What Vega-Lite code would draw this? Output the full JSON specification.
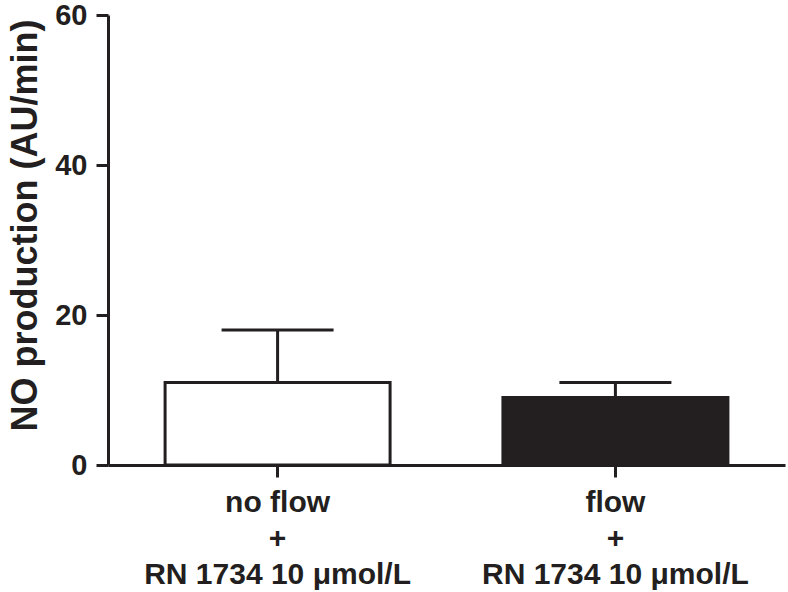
{
  "$schema": "https://vega.github.io/schema/vega-lite/v6.json",
  "autosize": {"type": "none"},
  "width": 677,
  "height": 450,
  "padding": {"left": 108, "top": 15, "right": 3, "bottom": 127},
  "background": "white",
  "config": {
    "view": {"stroke": null},
    "font": "Liberation Sans",
    "axis": {
      "domainColor": "#231f20",
      "domainWidth": 3,
      "tickColor": "#231f20",
      "tickWidth": 3,
      "tickSize": 12,
      "labelColor": "#231f20",
      "labelFont": "Liberation Sans",
      "labelFontWeight": "bold",
      "titleFont": "Liberation Sans",
      "titleFontWeight": "bold",
      "titleColor": "#231f20",
      "grid": false,
      "labelLimit": 0
    },
    "axisX": {
      "labelFontSize": 30,
      "labelLineHeight": 36,
      "labelPadding": 10,
      "labelAngle": 0
    },
    "axisY": {
      "labelFontSize": 29,
      "labelPadding": 9,
      "titleFontSize": 36,
      "titlePadding": 10,
      "titleY": 210
    }
  },
  "data": {
    "values": [
      {"group": "no flow|+|RN 1734 10 μmol/L", "mean": 11, "upper": 18, "treatment": "no flow"},
      {"group": "flow|+|RN 1734 10 μmol/L", "mean": 9, "upper": 11, "treatment": "flow"}
    ]
  },
  "encoding": {
    "x": {
      "field": "group",
      "type": "nominal",
      "sort": null,
      "scale": {"paddingInner": 0.334, "paddingOuter": 0.169},
      "axis": {
        "title": null,
        "labelExpr": "split(datum.label, '|')",
        "labelBaseline": "top"
      }
    }
  },
  "layer": [
    {
      "mark": {"type": "rule", "strokeWidth": 3, "color": "#231f20", "opacity": 1},
      "encoding": {
        "y": {
          "field": "mean",
          "type": "quantitative",
          "scale": {"domain": [0, 60]},
          "axis": {"title": "NO production (AU/min)", "values": [0, 20, 40, 60]}
        },
        "y2": {"field": "upper"}
      }
    },
    {
      "mark": {"type": "tick", "size": 112, "thickness": 3, "color": "#231f20", "orient": "horizontal", "opacity": 1},
      "encoding": {
        "y": {"field": "upper", "type": "quantitative"}
      }
    },
    {
      "mark": {"type": "bar", "stroke": "#231f20", "strokeWidth": 3, "opacity": 1},
      "encoding": {
        "y": {"field": "mean", "type": "quantitative"},
        "fill": {
          "field": "treatment",
          "type": "nominal",
          "scale": {"domain": ["no flow", "flow"], "range": ["#ffffff", "#231f20"]},
          "legend": null
        }
      }
    }
  ]
}
